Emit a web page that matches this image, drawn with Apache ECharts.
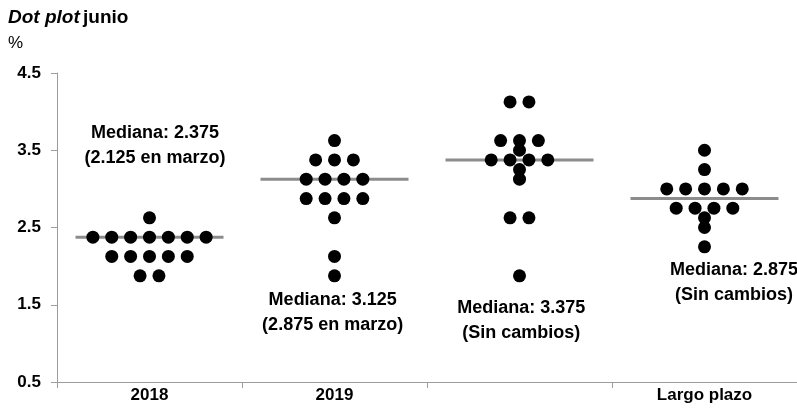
<!DOCTYPE html>
<html>
<head>
<meta charset="utf-8">
<script src="https://cdn.jsdelivr.net/npm/echarts@6/dist/echarts.min.js"></script>
<style>
  html, body { margin: 0; padding: 0; background: #fff; }
  #chart { width: 797px; height: 408px; }
</style>
</head>
<body>
<div id="chart"></div>
<script>
// Horizon groups shown on the x axis (third group carries no label)
const categories = ['2018', '2019', '', 'Largo plazo'];

// Individual projections (%), one entry per dot
const dots2018 = [2.625, 2.375, 2.375, 2.375, 2.375, 2.375, 2.375, 2.375,
                  2.125, 2.125, 2.125, 2.125, 2.125, 1.875, 1.875];
const dots2019 = [3.625, 3.375, 3.375, 3.375, 3.125, 3.125, 3.125, 3.125,
                  2.875, 2.875, 2.875, 2.875, 2.625, 2.125, 1.875];
const dots2020 = [4.125, 4.125, 3.625, 3.625, 3.625, 3.5, 3.375, 3.375,
                  3.375, 3.375, 3.25, 3.125, 2.625, 2.625, 1.875];
const dotsLong = [3.5, 3.25, 3.0, 3.0, 3.0, 3.0, 3.0, 2.75, 2.75, 2.75,
                  2.75, 2.625, 2.5, 2.25];

// Comparison with the previous round
const marchNotes = ['(2.125 en marzo)', '(2.875 en marzo)', '(Sin cambios)', '(Sin cambios)'];

// Y-axis tick labels
const yTicks = [0.5, 1.5, 2.5, 3.5, 4.5];

const groups = [dots2018, dots2019, dots2020, dotsLong];

// ---- layout settings ----
const DOT_STEP = 0.102;      // horizontal gap between dots sharing a value (x units)
const HALF_LINE = 0.4;       // half length of the median bar (x units)
// centre of each median annotation: [shift from group centre, y value]
const noteAnchors = [[0.03, 3.56], [-0.01, 1.40], [0.01, 1.30], [0.16, 1.79]];

function median(arr) {
  const s = arr.slice().sort((a, b) => a - b);
  const m = Math.floor(s.length / 2);
  return s.length % 2 ? s[m] : (s[m - 1] + s[m]) / 2;
}

// Spread dots with equal values side by side around the group centre
const dotData = [];
groups.forEach((vals, gi) => {
  const counts = {};
  vals.forEach(v => { counts[v] = (counts[v] || 0) + 1; });
  const seen = {};
  vals.forEach(v => {
    const k = seen[v] || 0;
    seen[v] = k + 1;
    const off = (k - (counts[v] - 1) / 2) * DOT_STEP;
    dotData.push([gi + 0.5 + off, v]);
  });
});

const medians = groups.map(median);
const medianData = medians.map((m, i) => [i, m]);
const noteData = medians.map((m, i) => ({
  value: [i + 0.5 + noteAnchors[i][0], noteAnchors[i][1]],
  note: 'Mediana: ' + m.toFixed(3) + '\n' + marchNotes[i]
}));

const FONT = "'Liberation Sans', Arial, sans-serif";
const AXIS_GREY = '#9c9c9c';

const chart = echarts.init(document.getElementById('chart'), null, { renderer: 'canvas' });
chart.setOption({
  animation: false,
  backgroundColor: '#ffffff',
  graphic: [
    {
      type: 'text', left: 8, top: 8,
      style: {
        text: '{i|Dot plot} {b|junio}',
        rich: {
          i: { font: 'italic bold 19px ' + FONT, fill: '#000' },
          b: { font: 'bold 19px ' + FONT, fill: '#000' }
        }
      }
    },
    {
      type: 'text', left: 8, top: 35,
      style: { text: '%', font: '17px ' + FONT, fill: '#000' }
    }
  ],
  grid: { left: 57, right: 0, top: 73, bottom: 26, containLabel: false },
  xAxis: [
    {
      type: 'value', min: 0, max: 4, interval: 1,
      axisLine: { show: true, lineStyle: { color: AXIS_GREY, width: 1 } },
      axisTick: { show: true, length: 6, lineStyle: { color: AXIS_GREY } },
      axisLabel: { show: false },
      splitLine: { show: false }
    },
    {
      type: 'category', data: categories, position: 'bottom',
      axisLine: { show: false }, axisTick: { show: false },
      axisLabel: {
        show: true, margin: 5, color: '#000',
        fontFamily: FONT, fontWeight: 'bold', fontSize: 17
      }
    }
  ],
  yAxis: {
    type: 'value', min: 0.5, max: 4.5,
    axisLine: { show: true, lineStyle: { color: AXIS_GREY, width: 1 } },
    axisTick: { show: true, length: 6, customValues: yTicks, lineStyle: { color: AXIS_GREY } },
    axisLabel: {
      customValues: yTicks, margin: 16, color: '#000',
      fontFamily: FONT, fontWeight: 'bold', fontSize: 17,
      formatter: v => v.toFixed(1)
    },
    splitLine: { show: false }
  },
  series: [
    {
      // median bars
      type: 'custom',
      xAxisIndex: 0, yAxisIndex: 0,
      z: 2,
      data: medianData,
      renderItem: function (params, api) {
        const i = api.value(0), m = api.value(1);
        const p1 = api.coord([i + 0.5 - HALF_LINE, m]);
        const p2 = api.coord([i + 0.5 + HALF_LINE, m]);
        return {
          type: 'line',
          shape: { x1: p1[0], y1: p1[1], x2: p2[0], y2: p2[1] },
          style: { stroke: '#8c8c8c', lineWidth: 3 }
        };
      }
    },
    {
      // individual projections
      type: 'scatter',
      xAxisIndex: 0, yAxisIndex: 0,
      z: 3,
      symbol: 'circle', symbolSize: 13,
      itemStyle: { color: '#000', opacity: 1 },
      emphasis: { disabled: true },
      data: dotData
    },
    {
      // median annotations
      type: 'scatter',
      xAxisIndex: 0, yAxisIndex: 0,
      z: 4,
      symbolSize: 0,
      silent: true,
      itemStyle: { opacity: 1 },
      emphasis: { disabled: true },
      data: noteData,
      label: {
        show: true, position: 'inside',
        formatter: p => p.data.note,
        align: 'center', verticalAlign: 'middle',
        fontFamily: FONT, fontWeight: 'bold', fontSize: 18,
        lineHeight: 25, color: '#000', opacity: 1
      }
    }
  ]
});
</script>
</body>
</html>
